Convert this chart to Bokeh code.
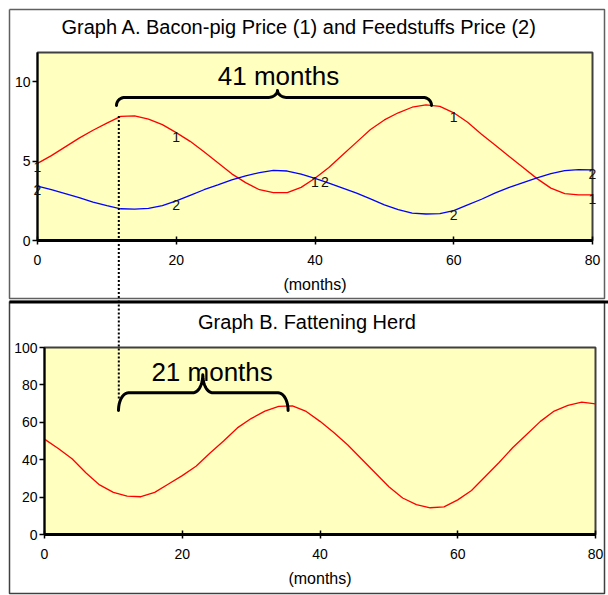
import numpy as np
from bokeh.plotting import figure
from bokeh.models import FixedTicker, Range1d
from bokeh.core.properties import value
from bokeh.embed import file_html
from bokeh.resources import INLINE

# ---------------- data ----------------
months = list(range(0, 81, 2))
bacon_price = [4.86, 5.35, 5.9, 6.45, 6.95, 7.4, 7.82, 7.85, 7.65, 7.3,
               6.8, 6.25, 5.6, 4.9, 4.2, 3.65, 3.2, 3.02, 3.02, 3.35,
               3.92, 4.6, 5.4, 6.2, 7.0, 7.6, 8.05, 8.4, 8.55, 8.45,
               8.05, 7.45, 6.7, 6.0, 5.3, 4.6, 3.9, 3.3, 2.95, 2.87, 2.88]
feed_price = [3.43, 3.2, 2.95, 2.7, 2.42, 2.2, 2.0, 1.98, 2.02, 2.2,
              2.5, 2.85, 3.2, 3.5, 3.82, 4.08, 4.28, 4.42, 4.38, 4.18,
              3.92, 3.62, 3.3, 2.98, 2.62, 2.25, 1.95, 1.72, 1.67, 1.7,
              1.88, 2.25, 2.6, 3.0, 3.35, 3.65, 3.95, 4.22, 4.4, 4.47, 4.45]
herd = [51, 46, 40.5, 33, 26.5, 22.5, 20.5, 20.2, 22.5, 27,
        31.5, 36.5, 43.5, 50, 57, 62, 66, 68.5, 68.8, 65.8,
        60.5, 54.5, 48, 40.5, 33, 25.5, 19.5, 16, 14.3, 14.8,
        18.5, 23.5, 31, 38.5, 46.5, 53.5, 60.5, 66, 69, 70.8, 69.8]
label_months = [0, 20, 40, 60, 80]
x_ticks = [0, 20, 40, 60, 80]
a_y_ticks = [0, 5, 10]
b_y_ticks = [0, 20, 40, 60, 80, 100]

title_a = "Graph A.  Bacon-pig Price (1) and Feedstuffs Price (2)"
title_b = "Graph B. Fattening Herd"
x_label = "(months)"
note_a = "41 months"
note_b = "21 months"

FONT = "Liberation Sans"
YELLOW = "#FFFFC0"

# ---------------- geometry (canvas pixels) ----------------
W = 608
HA, HB = 300, 295
A_L, A_R, A_T, A_B = 37, 592, 52, 240
B_L, B_R, B_T, B_B = 44, 595, 47, 234   # B top/bottom relative to B canvas
A_YMAX = 11.85


def a_x(px):
    return (px - A_L) / (A_R - A_L) * 80


def a_y(py):
    return (A_B - py) / (A_B - A_T) * A_YMAX


def b_x(px):
    return (px - B_L) / (B_R - B_L) * 80


def b_y(py_abs):
    py = py_abs - HA
    return (B_B - py) / (B_B - B_T) * 100


def brace_px(x0, x1, xm, y_end, y_bar, y_tip, re, rm, n=14):
    t = np.linspace(0, np.pi / 2, n)
    xs, ys = [], []
    xs += list(x0 + re * (1 - np.cos(t)))
    ys += list(y_end - (y_end - y_bar) * np.sin(t))
    xs += list(xm - rm + rm * np.sin(t))
    ys += list(y_bar - (y_bar - y_tip) * (1 - np.cos(t)))
    xs += list(xm + rm * (1 - np.cos(t)))
    ys += list(y_tip + (y_bar - y_tip) * np.sin(t))
    xs += list(x1 - re + re * np.sin(t))
    ys += list(y_bar + (y_end - y_bar) * (1 - np.cos(t)))
    return xs, ys


def style(p, yticks):
    p.background_fill_color = YELLOW
    p.border_fill_color = "white"
    p.outline_line_color = "#404040"
    p.outline_line_width = 2
    p.xgrid.visible = False
    p.ygrid.visible = False
    p.xaxis.ticker = FixedTicker(ticks=x_ticks)
    p.yaxis.ticker = FixedTicker(ticks=yticks)
    p.xaxis.minor_tick_line_color = None
    p.yaxis.minor_tick_line_color = None
    p.xaxis.axis_line_width = 3
    p.xaxis.axis_line_color = "black"
    p.yaxis.axis_line_width = 2
    p.yaxis.axis_line_color = "black"
    p.xaxis.major_tick_in = 4
    p.xaxis.major_tick_out = 4
    p.xaxis.major_tick_line_width = 1.5
    p.yaxis.major_tick_in = 0
    p.yaxis.major_tick_out = 5
    p.yaxis.major_tick_line_width = 1.5
    for ax in (p.xaxis, p.yaxis):
        ax.major_label_text_font = FONT
        ax.major_label_text_font_size = "14px"
        ax.major_label_text_color = "black"
    p.xaxis.major_label_standoff = 10
    p.yaxis.major_label_standoff = 2
    p.xaxis.axis_label = x_label
    p.xaxis.axis_label_text_font = FONT
    p.xaxis.axis_label_text_font_size = "16px"
    p.xaxis.axis_label_text_font_style = "normal"
    p.xaxis.axis_label_text_color = "black"
    p.xaxis.axis_label_standoff = 8


def txt(p, x, y, s, size, **kw):
    p.text(x=[x], y=[y], text=[s], text_font=value(FONT), text_font_size=value(size),
           text_align="center", text_baseline="middle", text_color="black",
           level="overlay", **kw)


# ---------------- Graph A ----------------
pa = figure(width=W, height=HA, output_backend="svg", toolbar_location=None,
            x_range=Range1d(0, 80), y_range=Range1d(0, A_YMAX),
            min_border_left=A_L, min_border_right=W - A_R,
            min_border_top=A_T, min_border_bottom=HA - A_B)
style(pa, a_y_ticks)

# outer box of graph A
pa.line([a_x(9), a_x(604), a_x(604), a_x(9), a_x(9)],
        [a_y(9), a_y(9), a_y(298), a_y(298), a_y(9)],
        line_color="#606060", line_width=1.5, level="overlay")

pa.line(months, bacon_price, line_color="#FF0000", line_width=1.3)
pa.line(months, feed_price, line_color="#0000FF", line_width=1.3)

lab_idx = [months.index(m) for m in label_months]
pa.text(x=label_months, y=[bacon_price[i] for i in lab_idx], text=["1"] * len(lab_idx),
        text_font=value(FONT), text_font_size=value("14px"), text_align="center",
        text_baseline="middle", y_offset=4, text_color="#111111", level="overlay")
pa.text(x=label_months, y=[feed_price[i] for i in lab_idx], text=["2"] * len(lab_idx),
        text_font=value(FONT), text_font_size=value("14px"), text_align="center",
        text_baseline="middle", y_offset=4,
        x_offset=[10 if m == 40 else 0 for m in label_months],
        text_color="#111111", level="overlay")

txt(pa, a_x(301.5), a_y(26), title_a, "20px")
txt(pa, a_x(278), a_y(75), note_a, "26px")

bx, by = brace_px(116, 431, 277, 105, 97, 90, 8, 10)
pa.line([a_x(v) for v in bx], [a_y(v) for v in by], line_color="black",
        line_width=3, line_join="round", line_cap="round")

# dotted link, upper part
DOT_PX = 118.3
pa.line([a_x(DOT_PX), a_x(DOT_PX)], [7.85, a_y(HA)], line_color="black",
        line_width=2, line_dash="2 2", level="overlay")

# ---------------- Graph B ----------------
pb = figure(width=W, height=HB, output_backend="svg", toolbar_location=None,
            x_range=Range1d(0, 80), y_range=Range1d(0, 100),
            min_border_left=B_L, min_border_right=W - B_R,
            min_border_top=B_T, min_border_bottom=HB - B_B)
style(pb, b_y_ticks)

pb.line([b_x(9), b_x(604), b_x(604), b_x(9), b_x(9)],
        [b_y(301), b_y(301), b_y(593), b_y(593), b_y(301)],
        line_color="#404040", line_width=1.5, level="overlay")
pb.line([b_x(9), b_x(608)], [b_y(301.5), b_y(301.5)], line_color="black",
        line_width=3, level="overlay")

pb.line(months, herd, line_color="#FF0000", line_width=1.3)

txt(pb, b_x(306.5), b_y(321), title_b, "20px")
txt(pb, b_x(211.6), b_y(371), note_b, "26px")

cx, cy = brace_px(118, 287.6, 202.3, 410, 392.3, 374.3, 10, 10)
pb.line([b_x(v) for v in cx], [b_y(v) for v in cy], line_color="black",
        line_width=3, line_join="round", line_cap="round")

pb.line([b_x(DOT_PX), b_x(DOT_PX)], [b_y(HA), b_y(400)], line_color="black",
        line_width=2, line_dash="2 2", level="overlay")

html = file_html([pa, pb], INLINE)
html = html.replace("<body>", "<body style=\"margin:0\">")
open("out.html", "w").write(html)
